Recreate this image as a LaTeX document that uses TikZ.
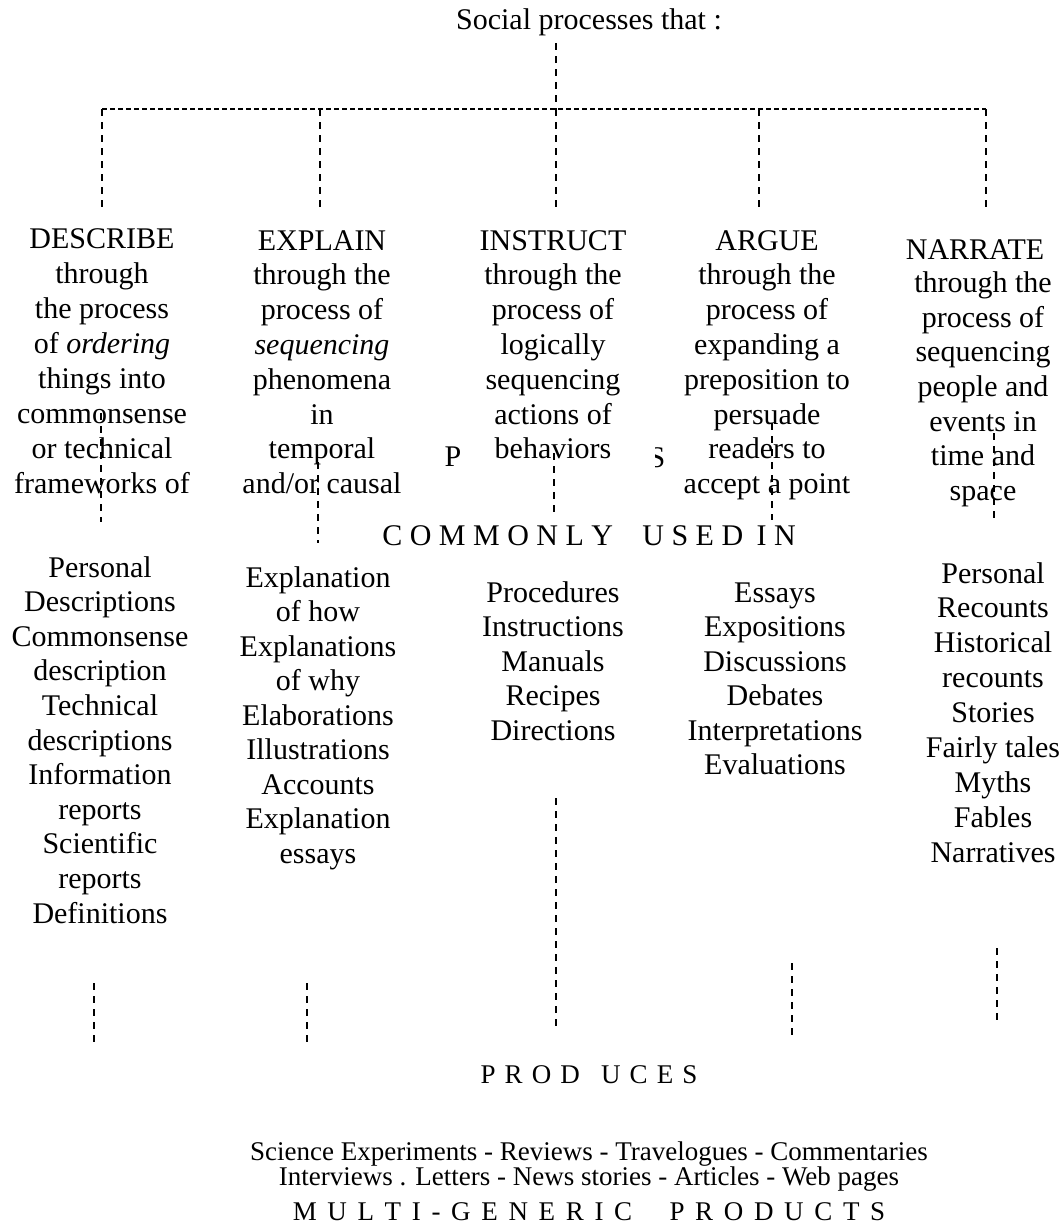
\documentclass[tikz,border=0pt]{standalone}
\usepackage{fontspec}
\setmainfont{Liberation Serif}
\usepackage{tikz}

\begin{document}
\begin{tikzpicture}[x=0.75pt, y=-0.75pt,
  rowtxt/.style={font=\fontsize{22.5}{27}\selectfont, inner sep=0pt, anchor=base},
  foottxt/.style={font=\fontsize{20.25}{24}\selectfont, inner sep=0pt, anchor=base},
  vlink/.style={line width=0.8pt, dash pattern=on 5.25pt off 4.5pt},
  hlink/.style={line width=1pt, dash pattern=on 3.75pt off 2.25pt}]

  \useasboundingbox (0,0) rectangle (1063,1228);

  % ---------- Title and branches ----------
  \node[rowtxt] (title) at (589,29) {Social processes that :};
  \coordinate (stem) at (556,43);
  \coordinate (hub) at (556,109);
  \foreach \x [count=\k] in {102,320,556,759,986} {
    \coordinate (br\k) at (\x,109);
    \coordinate (bt\k) at (\x,210);
  }

  % ---------- Five processes ----------
  \foreach \t [count=\i from 0] in {DESCRIBE, through, the process,
      of \textit{ordering}, things into, commonsense, or technical, frameworks of}
    \node[rowtxt] (des\i) at (102,248+35*\i) {\t};
  \foreach \t [count=\i from 0] in {EXPLAIN, through the, process of,
      \textit{sequencing}, phenomena, in, temporal, and/or causal}
    \node[rowtxt] (exp\i) at (322,250+34.8*\i) {\t};
  \foreach \t [count=\i from 0] in {INSTRUCT, through the, process of,
      logically, sequencing, actions of, behaviors}
    \node[rowtxt] (ins\i) at (553,250+34.8*\i) {\t};
  \foreach \t [count=\i from 0] in {ARGUE, through the, process of,
      expanding a, preposition to, persuade, readers to, accept a point}
    \node[rowtxt] (arg\i) at (767,250+34.8*\i) {\t};
  \node[rowtxt] (nar0) at (975,259) {NARRATE};
  \foreach \t [count=\i] in {through the, process of, sequencing,
      people and, events in, time and, space}
    \node[rowtxt] (nar\i) at (983,258+34.6*\i) {\t};

  % half-hidden word behind the columns
  \node[rowtxt] (procP) at (453,466) {P};
  \begin{scope}
    \clip (655,430) rectangle (690,480);
    \node[rowtxt] (procS) at (657,467) {S};
  \end{scope}

  \node[rowtxt] (used) at (589,545)
    {C O M M O N L Y\hspace{22pt}U S E D\hspace{10pt}I N};

  % ---------- Text types ----------
  \foreach \t [count=\i from 0] in {Personal, Descriptions, Commonsense,
      description, Technical, descriptions, Information, reports,
      Scientific, reports, Definitions}
    \node[rowtxt] (dty\i) at (100,577+34.6*\i) {\t};
  \foreach \t [count=\i from 0] in {Explanation, of how, Explanations,
      of why, Elaborations, Illustrations, Accounts, Explanation, essays}
    \node[rowtxt] (ety\i) at (318,587+34.5*\i) {\t};
  \foreach \t [count=\i from 0] in {Procedures, Instructions, Manuals,
      Recipes, Directions}
    \node[rowtxt] (ity\i) at (553,602+34.5*\i) {\t};
  \foreach \t [count=\i from 0] in {Essays, Expositions, Discussions,
      Debates, Interpretations, Evaluations}
    \node[rowtxt] (aty\i) at (775,602+34.5*\i) {\t};
  \foreach \t [count=\i from 0] in {Personal, Recounts, Historical,
      recounts, Stories, Fairly tales, Myths, Fables, Narratives}
    \node[rowtxt] (nty\i) at (993,583+34.9*\i) {\t};

  % ---------- Products ----------
  \node[foottxt] (prod) at (589,1083)
    {\spaceskip=6.8pt\relax P R O D\hspace{16pt}U C E S};
  \node[foottxt] (list1) at (589,1160)
    {Science Experiments - Reviews - Travelogues - Commentaries};
  \node[foottxt] (list2) at (589,1185)
    {Interviews . Letters - News stories - Articles - Web pages};
  \node[foottxt] (multi) at (589,1220)
    {\spaceskip=8pt\relax M U L T I - G E N E R I C\hspace{28pt}P R O D U C T S};

  % ---------- Dashed links ----------
  \draw[vlink] (stem) -- (hub);
  \draw[hlink] (br1) -- (br5);
  \foreach \k in {1,...,5}
    \draw[vlink] (br\k) -- (bt\k);

  % from processes to "commonly used in"
  \foreach \x/\ya/\yb [count=\k] in {101/413/522, 318/462/543, 554/453/517,
      772/423/520, 994/433/520} {
    \coordinate (ma\k) at (\x,\ya);
    \coordinate (mb\k) at (\x,\yb);
    \draw[vlink] (ma\k) -- (mb\k);
  }

  % from text types to "produces"
  \foreach \x/\ya/\yb [count=\k] in {94/983/1043, 307/983/1043, 556/798/1027,
      792/963/1037, 997/948/1020} {
    \coordinate (la\k) at (\x,\ya);
    \coordinate (lb\k) at (\x,\yb);
    \draw[vlink] (la\k) -- (lb\k);
  }

\end{tikzpicture}
\end{document}
